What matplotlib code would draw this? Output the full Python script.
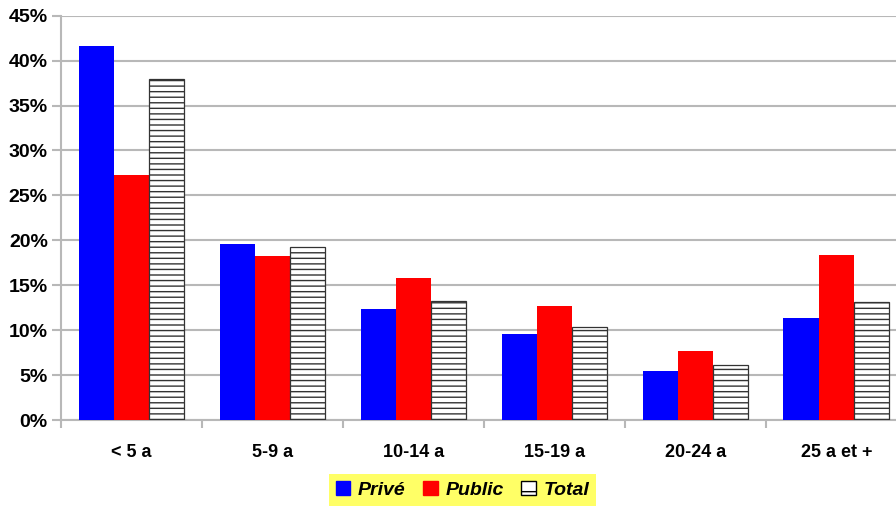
import matplotlib
matplotlib.use("Agg")
import matplotlib.pyplot as plt
from matplotlib.patches import Patch
import numpy as np

categories = ["< 5 a", "5-9 a", "10-14 a", "15-19 a", "20-24 a", "25 a et +"]
prive = [41.6, 19.6, 12.4, 9.6, 5.5, 11.4]
public = [27.3, 18.3, 15.8, 12.7, 7.7, 18.4]
total = [38.0, 19.3, 13.2, 10.4, 6.1, 13.1]
yticks = [0, 5, 10, 15, 20, 25, 30, 35, 40, 45]

plt.rcParams['font.family'] = ['Liberation Sans', 'DejaVu Sans']
plt.rcParams['hatch.linewidth'] = 1.0
plt.rcParams['hatch.color'] = 'black'

fig = plt.figure(figsize=(8.96, 5.08), dpi=100)
ax = fig.add_axes([0.0681, 0.1732, 0.944, 0.7959])

x = np.arange(len(categories))
w = 0.25
grid_c = '#b8b8b8'

ax.bar(x - w, prive, w, color='#0000ff', zorder=3)
ax.bar(x, public, w, color='#ff0000', zorder=3)
ax.bar(x + w, total, w, facecolor='white', edgecolor='#333333', linewidth=0.9,
       hatch='---', zorder=3)

ax.set_xlim(-0.5, len(categories) - 0.5)
ax.set_ylim(0, 45)
ax.set_yticks(yticks)
ax.set_yticklabels([f"{v}%" for v in yticks], fontsize=14, fontweight='bold')
ax.yaxis.grid(True, color=grid_c, linewidth=1.5, zorder=0)
ax.set_axisbelow(True)

ax.set_xticks(x)
ax.set_xticklabels(categories, fontsize=13, fontweight='bold')
ax.set_xticks(np.arange(len(categories) + 1) - 0.5, minor=True)
ax.tick_params(axis='x', which='major', length=0, pad=17)
ax.tick_params(axis='x', which='minor', length=6, width=1.5, color=grid_c)
ax.tick_params(axis='y', length=6.5, width=1.5, color=grid_c, pad=3)

for s in ['top', 'right']:
    ax.spines[s].set_visible(False)
for s in ['left', 'bottom']:
    ax.spines[s].set_color(grid_c)
    ax.spines[s].set_linewidth(1.5)

handles = [Patch(facecolor='#0000ff', edgecolor='#0000ff', label='Privé'),
           Patch(facecolor='#ff0000', edgecolor='#ff0000', label='Public'),
           Patch(facecolor='white', edgecolor='black', hatch='-', label='Total')]
leg = fig.legend(handles=handles, loc='center', bbox_to_anchor=(462.5 / 896, 18 / 508),
                 ncol=3, frameon=True, fancybox=False, facecolor='#ffff66',
                 edgecolor='none', framealpha=1, handlelength=0.75, handleheight=0.75,
                 handletextpad=0.4, columnspacing=0.9, borderpad=0.35,
                 prop={'size': 14, 'weight': 'bold', 'style': 'italic'})

fig.savefig('out.png', dpi=100)
